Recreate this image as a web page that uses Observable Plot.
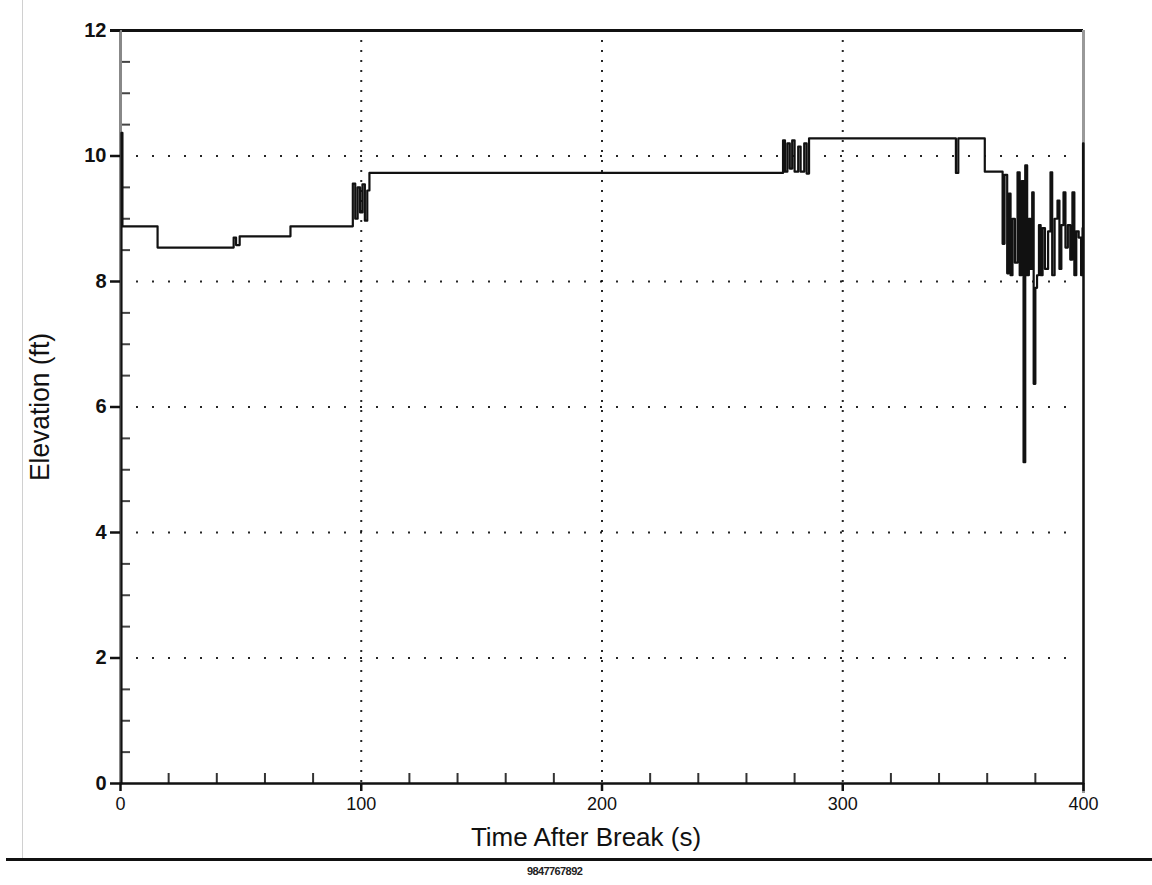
<!DOCTYPE html>
<html>
<head>
<meta charset="utf-8">
<script src="https://cdn.jsdelivr.net/npm/d3@7"></script>
<script src="https://cdn.jsdelivr.net/npm/@observablehq/plot@0.6"></script>
<style>
  html, body { margin: 0; padding: 0; background: #fff; }
  #wrap { position: relative; width: 1152px; height: 885px; overflow: hidden; font-family: "Liberation Sans", Arial, sans-serif; }
  #chart { position: absolute; left: 0; top: 0; }
  #scanline { position: absolute; left: 22px; top: 0; width: 1px; height: 858px; background: #d0d0d0; }
  #rule { position: absolute; left: 6px; top: 858px; width: 1146px; height: 3px; background: #111; }
  #docid { position: absolute; left: 527px; top: 865px; font-size: 11px; font-weight: bold; letter-spacing: -0.6px; color: #222; }
</style>
</head>
<body>
<div id="wrap">
  <div id="scanline"></div>
  <div id="chart"></div>
  <div id="rule"></div>
  <div id="docid">9847767892</div>
</div>
<script>
// ---- data (step trace) ----
const timeS = [
  0, 0.4, 0.8, 15.4, 47, 48, 49.5, 70.6,
  96.5, 97.5, 98.5, 99.5, 100.5, 101.5, 102.5, 103.4,
  275.2, 276, 277, 278, 279, 280, 281.5, 282.5, 284, 285, 286,
  347, 348, 359,
  366.4, 367.2, 368.3, 369.0, 369.7, 370.5, 371.5, 372.6, 373.5, 374.3,
  375.1, 375.8, 376.6, 377.3, 378, 378.7, 379.3, 380, 380.7, 381.5,
  382.2, 383, 384, 385.3, 386.3, 387, 388, 389.2, 390, 390.8,
  391.7, 392.5, 393.5, 394.5, 395.4, 396.2, 397, 398, 399, 399.6,
  399.8, 400
];
const elevationFt = [
  0, 10.37, 8.88, 8.54, 8.70, 8.58, 8.72, 8.88,
  9.56, 9.0, 9.5, 9.1, 9.55, 8.97, 9.45, 9.73,
  10.25, 9.75, 10.2, 9.8, 10.25, 9.75, 10.15, 9.75, 10.2, 9.72, 10.28,
  9.73, 10.28, 9.75,
  8.6, 9.7, 8.13, 9.4, 8.1, 9.0, 8.3, 9.74, 8.1, 9.6,
  5.12, 9.85, 8.1, 9.0, 8.2, 9.42, 6.37, 7.9, 8.1, 8.9,
  8.1, 8.85, 8.2, 8.8, 9.74, 8.1, 9.0, 9.29, 8.2, 8.9,
  9.42, 8.54, 8.9, 8.35, 9.42, 8.1, 8.8, 8.7, 8.1, 8.85,
  10.2, 0
];
const xMajorTicks = [0, 100, 200, 300, 400];
const xMinorTicks = [20, 40, 60, 80, 120, 140, 160, 180, 220, 240, 260, 280, 320, 340, 360, 380];
const xGridLines = [100, 200, 300];
const yMajorTicks = [0, 2, 4, 6, 8, 10, 12];
const yMinorTicks = [0.5, 1, 1.5, 2.5, 3, 3.5, 4.5, 5, 5.5, 6.5, 7, 7.5, 8.5, 9, 9.5, 10.5, 11, 11.5];
const yGridLines = [2, 4, 6, 8, 10];
const xLabel = "Time After Break (s)";
const yLabel = "Elevation (ft)";

const trace = timeS.map((t, i) => ({t, e: elevationFt[i]}));

const W = 1152, H = 885;
const mL = 120, mR = 69, mT = 30, mB = 102;
const frameW = W - mL - mR, frameH = H - mT - mB;

const chart = Plot.plot({
  width: W, height: H,
  marginLeft: mL, marginRight: mR, marginTop: mT, marginBottom: mB,
  style: {fontFamily: "'Liberation Sans', Arial, sans-serif", fontSize: "19px", color: "#111", background: "transparent"},
  x: {domain: [0, 400]},
  y: {domain: [0, 12]},
  marks: [
    // dotted grid
    Plot.gridX(xGridLines, {stroke: "#000", strokeOpacity: 0.85, strokeWidth: 2, strokeDasharray: "2,8"}),
    Plot.gridY(yGridLines, {stroke: "#000", strokeOpacity: 0.85, strokeWidth: 2, strokeDasharray: "2,14", insetLeft: 16, insetRight: 14}),
    // inward minor ticks
    Plot.ruleX(xMinorTicks, {stroke: "#333", strokeWidth: 2, insetTop: frameH - 10}),
    Plot.ruleY(yMinorTicks, {stroke: "#444", strokeWidth: 2, insetRight: frameW - 10}),
    // frame borders
    Plot.ruleY([12], {stroke: "#111", strokeWidth: 3, insetLeft: -10}),
    Plot.ruleX([0], {stroke: "#888", strokeWidth: 3}),
    Plot.ruleX([400], {stroke: "#999", strokeWidth: 3, insetBottom: -10}),
    Plot.ruleY([0], {stroke: "#111", strokeWidth: 2.5}),
    // axes
    Plot.axisX(xMajorTicks, {anchor: "bottom", tickSize: 8, tickPadding: 6, strokeWidth: 2.5, fontSize: 18, label: null, tickFormat: d3.format("d")}),
    Plot.axisY(yMajorTicks, {anchor: "left", tickSize: 10, tickPadding: 4, strokeWidth: 2.5, fontSize: 20, fontWeight: "bold", label: null, tickFormat: d3.format("d")}),
    // data trace
    Plot.line(trace, {x: "t", y: "e", curve: "step-after", stroke: "#111", strokeWidth: 2.2}),
    // axis titles
    Plot.text([xLabel], {frameAnchor: "bottom", textAnchor: "middle", dx: -16, dy: 54, fontSize: 26, fill: "#111", lineAnchor: "middle"}),
    Plot.text([yLabel], {frameAnchor: "left", textAnchor: "middle", dx: -80, rotate: -90, fontSize: 28, fill: "#111", lineAnchor: "middle", className: "ylab"})
  ]
});
document.getElementById("chart").appendChild(chart);
// condense the rotated y-axis title to the reference's length
d3.select(chart).selectAll(".ylab text").attr("textLength", 148).attr("lengthAdjust", "spacingAndGlyphs");
</script>
</body>
</html>
